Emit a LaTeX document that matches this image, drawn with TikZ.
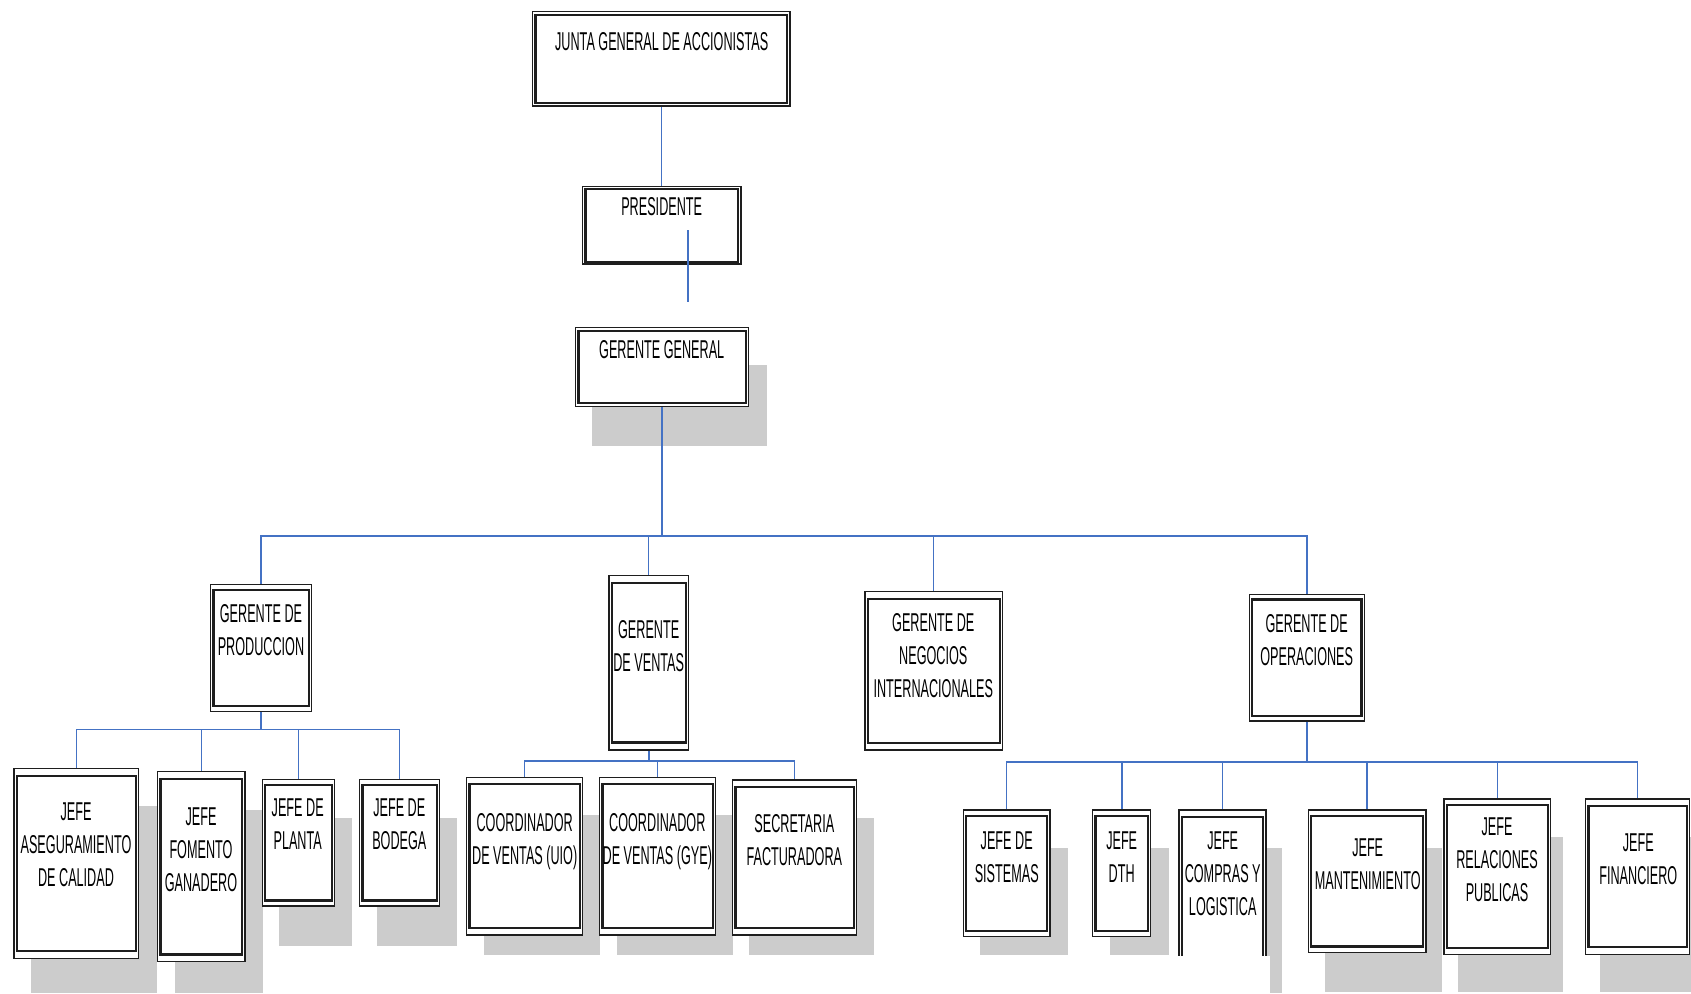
\documentclass[tikz,border=0pt]{standalone}
\usepackage{fontspec}
\usetikzlibrary{fit}
\newfontfamily\capfont[FakeStretch=0.49]{Liberation Sans}
\definecolor{linkblue}{RGB}{68,114,196}
\definecolor{shadowgray}{RGB}{204,204,204}
\definecolor{boxline}{RGB}{30,30,30}

\tikzset{
  outerbox/.style={draw=boxline, line width=1.4pt, fill=white, inner sep=0pt},
  innerbox/.style={draw=boxline, line width=2.2pt},
  caption/.style={anchor=north, yshift=9.3pt, align=center, inner sep=0pt,
    font={\capfont\fontsize{25.8}{33}\selectfont}},
  link/.style={draw=linkblue, line width=1.6pt},
  trunk/.style={draw=linkblue, line width=2.2pt},
  shade/.style={fill=shadowgray}
}

% #1 inner inset (vertical), #2 name, #3 top-left, #4 bottom-right,
% #5 centre of the first text line, #6 text
\newcommand\orgunit[6][7]{%
  \node[outerbox, fit={#3 #4}] (#2) {};
  \draw[innerbox] ([shift={(3.4,#1)}]#2.north west) rectangle ([shift={(-3.4,-#1)}]#2.south east);
  \node[caption] (#2-t) at #5 {#6};
}

\begin{document}
\begin{tikzpicture}[x=1pt, y=-1pt]
\useasboundingbox (0,0) rectangle (1691,993);

% drop shadows
\path[shade] (592.3,365) rectangle (766.7,446);
\path[shade] (31,806) rectangle (156.7,993);
\path[shade] (175,810) rectangle (262.7,993);
\path[shade] (279,817.7) rectangle (352.3,945.7);
\path[shade] (377,817.7) rectangle (457.3,945.7);
\path[shade] (484,815) rectangle (600.3,955);
\path[shade] (616.7,815) rectangle (733.3,955);
\path[shade] (749.3,817.7) rectangle (874.3,955);
\path[shade] (980,848.3) rectangle (1068.3,955);
\path[shade] (1110,848.3) rectangle (1169.3,955);
\path[shade] (1196,848.3) rectangle (1282,993);
\path[shade] (1325,848.3) rectangle (1442,992);
\path[shade] (1458,836.7) rectangle (1563,992);
\path[shade] (1600,836.7) rectangle (1691,992);

% top levels
\orgunit[4]{junta}{(532.7,11.7)}{(790,106)}{(661.7,41.7)}{JUNTA GENERAL DE ACCIONISTAS}
\orgunit[3]{pres}{(582.7,186.7)}{(741,264)}{(661.7,207)}{PRESIDENTE}
\orgunit[4.3]{gg}{(575.7,327.3)}{(748.3,406.7)}{(661.7,350)}{GERENTE GENERAL}

% managers
\orgunit[6.4]{gprod}{(210.7,584.3)}{(311.7,711.7)}{(261,613.3)}{GERENTE DE\\PRODUCCION}
\orgunit[8.3]{gvent}{(609,575.7)}{(688.3,750)}{(648.7,629.3)}{GERENTE\\DE VENTAS}
\orgunit[8]{gneg}{(865,591.7)}{(1002.3,750)}{(933.3,622.7)}{GERENTE DE\\NEGOCIOS\\INTERNACIONALES}
\orgunit[5.8]{gops}{(1249.3,594.3)}{(1364.2,721)}{(1306.7,623.3)}{GERENTE DE\\OPERACIONES}

% production
\orgunit[8]{aseg}{(14,768.3)}{(138.7,958.3)}{(76,811.7)}{JEFE\\ASEGURAMIENTO\\DE CALIDAD}
\orgunit[8]{fom}{(157.7,771.7)}{(245,961.7)}{(201,816.7)}{JEFE\\FOMENTO\\GANADERO}
\orgunit[6.2]{planta}{(262.3,779.3)}{(334.3,906)}{(297.7,808.3)}{JEFE DE\\PLANTA}
\orgunit[6.2]{bodega}{(359.7,779.3)}{(439.3,906)}{(399.3,808.3)}{JEFE DE\\BODEGA}

% sales
\orgunit[7.7]{cuio}{(466.7,777.3)}{(582.3,935)}{(524.7,822.3)}{COORDINADOR\\DE VENTAS (UIO)}
\orgunit[7.7]{cgye}{(599.7,777.3)}{(715.3,935)}{(657.3,822.3)}{COORDINADOR\\DE VENTAS (GYE)}
\orgunit[7.7]{secr}{(732.7,780)}{(856.3,935)}{(794.3,823.3)}{SECRETARIA\\FACTURADORA}

% operations
\orgunit[6.7]{sist}{(963.3,810)}{(1050,936.7)}{(1006.7,840.7)}{JEFE DE\\SISTEMAS}
\orgunit[6.7]{dth}{(1092.7,810)}{(1150.7,936.7)}{(1121.7,840.7)}{JEFE\\DTH}
\orgunit[7.3]{compras}{(1179,810)}{(1266,985)}{(1222.7,840.7)}{JEFE\\COMPRAS Y\\LOGISTICA}
\orgunit[7]{mant}{(1308.3,810)}{(1426,952.7)}{(1367.7,848.3)}{JEFE\\MANTENIMIENTO}
\orgunit[7]{rel}{(1444,799)}{(1550.7,954.3)}{(1497,826.7)}{JEFE\\RELACIONES\\PUBLICAS}
\orgunit[7.8]{fin}{(1585.7,799)}{(1689.5,954.3)}{(1638.3,843.3)}{JEFE\\FINANCIERO}

% the purchasing box runs off below the sheet
\fill[white] (1172,955.5) rectangle (1270,995);

% bus levels
\coordinate (busmain) at (0,535.7);
\coordinate (busprod) at (0,729.3);
\coordinate (busvent) at (0,761);
\coordinate (busops)  at (0,761.7);
\coordinate (stubtop) at (687.7,230);
\coordinate (stubbot) at (687.7,301.7);

% connectors
\draw[link] (junta.south) -- (junta.south |- pres.north);
\draw[link] (stubtop) -- (stubbot);

\draw[trunk] (gg.south) -- (gg.south |- busmain);
\draw[link] (gprod.north) -- (gprod.north |- busmain) -- (gops.north |- busmain) -- (gops.north);
\draw[link] (gvent.north |- busmain) -- (gvent.north);
\draw[link] (gneg.north |- busmain) -- (gneg.north);

\draw[trunk] (gprod.south) -- (gprod.south |- busprod);
\draw[link] (aseg.north) -- (aseg.north |- busprod) -- (bodega.north |- busprod) -- (bodega.north);
\draw[link] (fom.north |- busprod) -- (fom.north);
\draw[link] (planta.north |- busprod) -- (planta.north);

\draw[trunk] (gvent.south) -- (gvent.south |- busvent);
\draw[link] (cuio.north) -- (cuio.north |- busvent) -- (secr.north |- busvent) -- (secr.north);
\draw[link] (cgye.north |- busvent) -- (cgye.north);

\draw[trunk] (gops.south) -- (gops.south |- busops);
\draw[link] (sist.north) -- (sist.north |- busops) -- (fin.north |- busops) -- (fin.north);
\draw[link] (dth.north |- busops) -- (dth.north);
\draw[link] (compras.north |- busops) -- (compras.north);
\draw[link] (mant.north |- busops) -- (mant.north);
\draw[link] (rel.north |- busops) -- (rel.north);
\end{tikzpicture}
\end{document}
